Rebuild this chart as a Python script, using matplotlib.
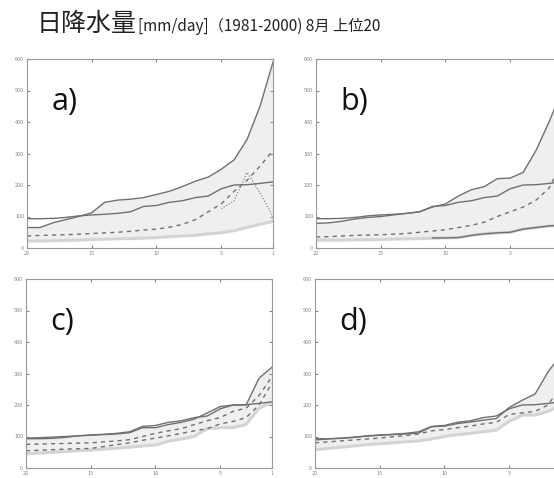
import numpy as np
import matplotlib.pyplot as plt

plt.rcParams['font.family'] = ['Noto Sans CJK JP', 'DejaVu Sans']

# rank 20 -> 1
ranks = list(range(20, 0, -1))

obs = [93, 93, 94, 97, 102, 105, 107, 110, 115, 132, 135, 145, 150, 160, 165, 188, 200, 201, 205, 210]

upper_a = [65, 65, 80, 90, 100, 112, 145, 152, 155, 160, 170, 180, 195, 212, 225, 250, 280, 345, 450, 590]
dashed_a = [38, 40, 41, 42, 44, 46, 48, 50, 53, 57, 60, 66, 75, 90, 115, 140, 180, 215, 260, 310]
lower_a = [22, 22, 23, 24, 25, 27, 28, 29, 30, 31, 33, 36, 38, 40, 45, 48, 55, 65, 75, 85]
dotted_a_x = [5, 4, 3, 2, 1]
dotted_a = [125, 150, 240, 175, 100]

upper_b = [78, 80, 85, 92, 97, 100, 105, 110, 115, 130, 140, 165, 185, 195, 220, 222, 240, 310, 400, 500]
dashed_b = [35, 36, 38, 40, 41, 42, 44, 46, 50, 54, 58, 65, 72, 82, 100, 115, 130, 152, 190, 270]
lower_b = [25, 25, 25, 26, 26, 27, 28, 29, 30, 31, 32, 33, 40, 45, 48, 50, 60, 65, 70, 72]
lowline_b_x = [11, 10, 9, 8, 7, 6, 5, 4, 3, 2, 1]
lowline_b = [32, 32, 33, 40, 45, 48, 50, 60, 65, 70, 72]

upper_c = [95, 96, 98, 100, 102, 104, 106, 108, 112, 128, 128, 138, 145, 155, 175, 195, 200, 200, 285, 320]
dashed1_c = [55, 56, 58, 60, 61, 62, 68, 74, 80, 88, 95, 102, 110, 118, 125, 140, 148, 160, 200, 270]
dashed2_c = [75, 76, 77, 78, 79, 80, 83, 86, 90, 100, 110, 118, 125, 138, 150, 160, 180, 190, 230, 290]
lower_c = [45, 47, 50, 52, 55, 57, 60, 63, 66, 70, 73, 85, 92, 100, 125, 128, 128, 138, 190, 208]

upper_d = [89, 92, 95, 98, 101, 104, 106, 108, 111, 131, 133, 141, 146, 152, 157, 192, 215, 235, 305, 360]
dashed_d = [80, 83, 86, 89, 92, 95, 99, 103, 108, 118, 122, 128, 133, 140, 145, 170, 175, 180, 200, 260]
lower_d = [58, 62, 66, 70, 74, 77, 80, 83, 86, 92, 100, 106, 110, 115, 120, 148, 168, 168, 180, 198]

labels = ['a)', 'b)', 'c)', 'd)']
xtick_vals = [20, 15, 10, 5, 1]
W, H = 554, 478
pos = [(27, 248), (316, 248), (26, 468), (315, 468)]
aw, ah = 246, 189

DARK = '#707070'
LIGHT = '#d4d4d4'
FILL = '#efefef'

fig = plt.figure(figsize=(W / 100, H / 100), dpi=100)
t1 = fig.text(37 / W, 1 - 31 / H, '日降水量', fontsize=18, ha='left', va='baseline',
              color='#222222')
fig.canvas.draw()
bb = t1.get_window_extent()
fig.text(bb.x1 / W + 0.002, 1 - 31 / H, '[mm/day]（1981-2000) 8月 上位20',
         fontsize=11, ha='left', va='baseline', color='#222222')

panels = [
    dict(upper=upper_a, lower=lower_a, dashed=[dashed_a]),
    dict(upper=upper_b, lower=lower_b, dashed=[dashed_b]),
    dict(upper=upper_c, lower=lower_c, dashed=[dashed1_c, dashed2_c]),
    dict(upper=upper_d, lower=lower_d, dashed=[dashed_d]),
]

for i, p in enumerate(panels):
    x0, y0 = pos[i]
    ax = fig.add_axes([x0 / W, 1 - y0 / H, aw / W, ah / H])
    ax.fill_between(ranks, p['lower'], p['upper'], color=FILL, lw=0)
    ax.plot(ranks, p['lower'], color=LIGHT, lw=2.2)
    ax.plot(ranks, p['upper'], color=DARK, lw=1.0)
    for d in p['dashed']:
        ax.plot(ranks, d, color=DARK, lw=1.0, ls=(0, (3, 3)))
    ax.plot(ranks, obs, color=DARK, lw=1.0)
    if i == 0:
        ax.plot(dotted_a_x, dotted_a, color=DARK, lw=0.8, ls=':')
    if i == 1:
        ax.plot(lowline_b_x, lowline_b, color=DARK, lw=1.0)
    ax.set_xlim(20, 1)
    ax.set_ylim(0, 600)
    ax.set_xticks(xtick_vals)
    # right-hand panels are cut off by the picture edge before the "1"
    if i % 2 == 1:
        ax.set_xticklabels([str(v) for v in xtick_vals[:-1]] + [''])
    ax.set_yticks(range(0, 601, 100))
    ax.tick_params(labelsize=4, colors='#888888', length=2, direction='in',
                   top=True, right=True, pad=2)
    for s in ax.spines.values():
        s.set_color('#9a9a9a')
        s.set_linewidth(0.8)
    ax.text(0.1, 0.77, labels[i], transform=ax.transAxes, fontsize=22,
            family='Open Sans', color='#111111', ha='left', va='center')

fig.savefig('out.png', dpi=100)
